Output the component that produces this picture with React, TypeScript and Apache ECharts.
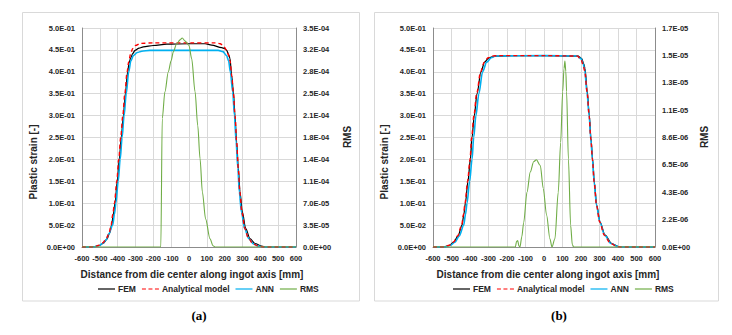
import React, { useEffect, useRef } from "react";
import * as echarts from "echarts";

// ---------- Data ----------
const legendNames = ["FEM", "Analytical model", "ANN", "RMS"];
const strainTicks = ["0.0E+00", "5.0E-02", "1.0E-01", "1.5E-01", "2.0E-01", "2.5E-01", "3.0E-01", "3.5E-01", "4.0E-01", "4.5E-01", "5.0E-01"];
const rmsTicksA = ["0.0E+00", "3.5E-05", "7.0E-05", "1.1E-04", "1.4E-04", "1.8E-04", "2.1E-04", "2.5E-04", "2.8E-04", "3.2E-04", "3.5E-04"];
const rmsTicksB = ["0.0E+00", "2.2E-06", "4.3E-06", "6.5E-06", "8.6E-06", "1.1E-05", "1.3E-05", "1.5E-05", "1.7E-05"];

// Panel (a)
const femA = [[-600,0],[-550,0],[-527,0.001],[-500,0.004],[-480,0.009],[-460,0.018],[-445,0.032],[-434,0.05],[-424,0.075],[-415,0.1],[-402,0.15],[-391,0.2],[-380,0.25],[-368,0.3],[-357,0.35],[-344,0.4],[-336,0.42],[-327,0.432],[-315,0.442],[-303,0.449],[-280,0.454],[-256,0.457],[-200,0.46],[-125,0.463],[0,0.464],[90,0.464],[127,0.461],[183,0.455],[200,0.453],[211,0.449],[222,0.44],[230,0.43],[239,0.392],[249,0.354],[258,0.3],[267,0.24],[277,0.179],[286,0.126],[299,0.08],[318,0.042],[342,0.019],[370,0.008],[407,0.002],[430,0],[600,0]];
const anaA = [[-600,0],[-530,0],[-505,0.004],[-485,0.009],[-465,0.018],[-448,0.032],[-437,0.05],[-427,0.075],[-418,0.1],[-405,0.15],[-394,0.2],[-383,0.25],[-371,0.3],[-360,0.35],[-347,0.4],[-338,0.423],[-328,0.44],[-316,0.453],[-300,0.46],[-270,0.465],[-200,0.466],[0,0.466],[150,0.466],[175,0.464],[193,0.459],[210,0.45],[220,0.44],[230,0.425],[240,0.39],[249,0.35],[258,0.3],[267,0.24],[276,0.18],[285,0.126],[296,0.08],[313,0.042],[333,0.02],[360,0.007],[395,0.001],[420,0],[600,0]];
const annA = [[-600,0],[-535,0],[-505,0.003],[-485,0.008],[-465,0.016],[-450,0.03],[-428,0.05],[-418,0.075],[-410,0.1],[-397,0.15],[-386,0.2],[-375,0.25],[-364,0.3],[-352,0.35],[-338,0.4],[-326,0.425],[-312,0.437],[-290,0.444],[-265,0.447],[-219,0.449],[0,0.449],[164,0.449],[190,0.446],[211,0.437],[222,0.425],[232,0.4],[245,0.354],[255,0.3],[264,0.24],[274,0.18],[282,0.126],[294,0.08],[312,0.042],[335,0.019],[362,0.007],[389,0.002],[410,0],[600,0]];
const rmsA = [[-600,0],[-158,0],[-150,2.05e-4],[-135,2.48e-4],[-116,2.8e-4],[-100,2.98e-4],[-88,3.12e-4],[-70,3.24e-4],[-50,3.31e-4],[-38,3.34e-4],[-22,3.29e-4],[0,3.22e-4],[15,3.01e-4],[34,2.48e-4],[49,1.94e-4],[62,1.41e-4],[75,8.8e-5],[93,4.5e-5],[118,1.3e-5],[135,2e-6],[146,0],[600,0]];

// Panel (b)
const femB = [[-600,0],[-540,0],[-510,0.004],[-488,0.011],[-465,0.025],[-443,0.05],[-433,0.075],[-425,0.1],[-411,0.15],[-398,0.2],[-389,0.25],[-377,0.3],[-362,0.35],[-341,0.4],[-321,0.422],[-300,0.431],[-281,0.434],[-254,0.436],[-150,0.437],[0,0.437],[186,0.436],[204,0.43],[215,0.418],[222,0.407],[234,0.354],[245,0.3],[254,0.247],[263,0.2],[272,0.148],[285,0.095],[303,0.057],[330,0.027],[366,0.008],[402,0.001],[420,0],[600,0]];
const anaB = [[-600,0],[-542,0],[-512,0.004],[-490,0.011],[-467,0.025],[-445,0.05],[-435,0.075],[-427,0.1],[-413,0.15],[-400,0.2],[-391,0.25],[-379,0.3],[-364,0.35],[-343,0.4],[-323,0.422],[-302,0.432],[-280,0.436],[-250,0.437],[0,0.437],[180,0.436],[200,0.428],[212,0.415],[220,0.402],[233,0.354],[244,0.3],[253,0.247],[262,0.2],[271,0.148],[284,0.095],[301,0.057],[326,0.027],[360,0.008],[396,0.001],[415,0],[600,0]];
const annB = [[-600,0],[-535,0],[-505,0.004],[-482,0.011],[-458,0.025],[-434,0.05],[-424,0.075],[-416,0.1],[-402,0.15],[-389,0.2],[-380,0.25],[-368,0.3],[-352,0.35],[-332,0.4],[-310,0.422],[-285,0.432],[-263,0.436],[0,0.437],[180,0.436],[200,0.43],[212,0.418],[220,0.405],[232,0.354],[244,0.3],[253,0.247],[262,0.2],[271,0.148],[284,0.095],[302,0.057],[328,0.027],[362,0.008],[398,0.001],[415,0],[600,0]];
const rmsB = [[-600,0],[-155,0],[-148,4.5e-7],[-142,5e-7],[-136,1e-7],[-130,0],[-120,8e-7],[-110,1.9e-6],[-92,4.3e-6],[-74,5.9e-6],[-56,6.7e-6],[-41,6.85e-6],[-20,6.4e-6],[-4,4.6e-6],[14,2.5e-6],[32,6.5e-7],[43,0],[59,6.5e-7],[77,4.3e-6],[90,8.2e-6],[101,1.22e-5],[108,1.4e-5],[113,1.46e-5],[118,1.38e-5],[122,1.22e-5],[132,6.9e-6],[144,1.7e-6],[153,2e-7],[160,0],[600,0]];

const COLORS = { fem: "#000000", ana: "#ff0000", ann: "#00b0f0", rms: "#70ad47" };
const legendColors = [COLORS.fem, COLORS.ana, COLORS.ann, COLORS.rms];
const legendDashed = [false, true, false, false];
const FONT = "'Liberation Sans', Arial, sans-serif";
const TXT = "#262626";

function fromTicks(ticks: string[], interval: number) {
  return (v: number) => {
    const i = Math.round(v / interval);
    return ticks[i] ?? "";
  };
}

// measure text width for manual legend layout
function textWidth(s: string, font: string) {
  const c = document.createElement("canvas").getContext("2d");
  if (!c) return s.length * 5;
  c.font = font;
  return c.measureText(s).width;
}

export default function App() {
  const ref = useRef<HTMLDivElement>(null);
  useEffect(() => {
    if (!ref.current) return;
    const chart = echarts.init(ref.current, undefined, { renderer: "svg" });
    const labelStyle = { fontSize: 7.5, fontWeight: "bold" as const, fontFamily: FONT, color: TXT };
    const axisLine = { show: true, onZero: false, lineStyle: { color: "#8c8c8c", width: 1 } };
    const splitLine = { show: true, lineStyle: { color: "#d9d9d9", width: 1 } };
    const xAx = (gi: number) => ({
      gridIndex: gi, type: "value", min: -600, max: 600, interval: 100,
      axisLine, axisTick: { show: false }, splitLine,
      axisLabel: { ...labelStyle, margin: 7, hideOverlap: false, formatter: (v: number) => String(v) },
    });
    const yLeft = (gi: number) => ({
      gridIndex: gi, type: "value", position: "left", min: 0, max: 0.5, interval: 0.05,
      axisLine, axisTick: { show: false }, splitLine,
      axisLabel: { ...labelStyle, margin: 7, formatter: fromTicks(strainTicks, 0.05) },
    });
    const yRight = (gi: number, max: number, interval: number, ticks: string[]) => ({
      gridIndex: gi, type: "value", position: "right", min: 0, max, interval,
      axisLine, axisTick: { show: false }, splitLine: { show: false },
      axisLabel: { ...labelStyle, margin: 7, formatter: fromTicks(ticks, interval) },
    });
    const line = (name: string, data: number[][], color: string, xi: number, yi: number, width: number, type: any = "solid", z = 2) => ({
      name, type: "line", data, xAxisIndex: xi, yAxisIndex: yi, showSymbol: false, symbol: "none",
      smooth: 0.3, smoothMonotone: "x", z,
      lineStyle: { color, width, type }, itemStyle: { color },
    });

    // manual legend (line sample + bold text)
    const LEG_FONT_SIZE = 8.5;
    const legFont = `bold ${LEG_FONT_SIZE}px ${FONT}`;
    const legendGraphic = (startX: number, y: number) => {
      const els: any[] = [];
      let x = startX;
      legendNames.forEach((name, i) => {
        els.push({
          type: "line", silent: true,
          shape: { x1: x, y1: y, x2: x + 17, y2: y },
          style: { stroke: legendColors[i], lineWidth: 1.2, lineDash: legendDashed[i] ? [4, 2.5] : null },
        });
        x += 20;
        els.push({
          type: "text", x, y, silent: true,
          style: { text: name, fontSize: LEG_FONT_SIZE, fontWeight: "bold", fontFamily: FONT, fill: TXT, align: "left", verticalAlign: "middle" },
        });
        x += textWidth(name, legFont) + 6;
      });
      return els;
    };

    const title = (text: string, x: number, y: number, rot = 0, size = 10) => ({
      type: "text", x, y, rotation: rot,
      style: { text, fontSize: size, fontWeight: "bold", fontFamily: FONT, fill: TXT, align: "center", verticalAlign: "middle" },
    });
    chart.setOption({
      animation: false,
      backgroundColor: "#ffffff",
      grid: [
        { left: 82, top: 28, width: 214, height: 219 },
        { left: 433, top: 28, width: 222, height: 219 },
      ],
      xAxis: [xAx(0), xAx(1)],
      yAxis: [
        yLeft(0),
        yRight(0, 3.5e-4, 3.5e-5, rmsTicksA),
        yLeft(1),
        yRight(1, 1.72e-5, 2.15e-6, rmsTicksB),
      ],
      series: [
        line("FEM", femA, COLORS.fem, 0, 0, 1.2),
        line("Analytical model", anaA, COLORS.ana, 0, 0, 1.4, [4, 3], 3),
        line("ANN", annA, COLORS.ann, 0, 0, 1.6),
        line("RMS", rmsA, COLORS.rms, 0, 1, 1.1, "solid", 4),
        line("FEM", femB, COLORS.fem, 1, 2, 1.2),
        line("Analytical model", anaB, COLORS.ana, 1, 2, 1.4, [4, 3], 3),
        line("ANN", annB, COLORS.ann, 1, 2, 1.6),
        line("RMS", rmsB, COLORS.rms, 1, 3, 1.1, "solid", 4),
      ],
      graphic: [
        { type: "rect", shape: { x: 22.5, y: 12.5, width: 337, height: 288.5 }, style: { fill: "none", stroke: "#d9d9d9", lineWidth: 1 }, silent: true },
        { type: "rect", shape: { x: 374.5, y: 12.5, width: 344, height: 288.5 }, style: { fill: "none", stroke: "#d9d9d9", lineWidth: 1 }, silent: true },
        title("Plastic strain [-]", 33, 162, Math.PI / 2),
        title("RMS", 347, 137, Math.PI / 2),
        title("Distance from die center along ingot axis [mm]", 192, 274),
        title("Plastic strain [-]", 384, 162, Math.PI / 2),
        title("RMS", 704, 137, Math.PI / 2),
        title("Distance from die center along ingot axis [mm]", 548, 274),
        ...legendGraphic(98, 289),
        ...legendGraphic(453, 289),
        { type: "text", x: 199, y: 315, style: { text: "(a)", fontSize: 13, fontWeight: "bold", fontFamily: "'Liberation Serif', 'Times New Roman', serif", fill: "#000", align: "center", verticalAlign: "middle" } },
        { type: "text", x: 559, y: 315, style: { text: "(b)", fontSize: 13, fontWeight: "bold", fontFamily: "'Liberation Serif', 'Times New Roman', serif", fill: "#000", align: "center", verticalAlign: "middle" } },
      ],
    });
    return () => chart.dispose();
  }, []);
  return <div ref={ref} style={{ position: "absolute", left: 0, top: 0, width: 732, height: 335, background: "#fff" }} />;
}
